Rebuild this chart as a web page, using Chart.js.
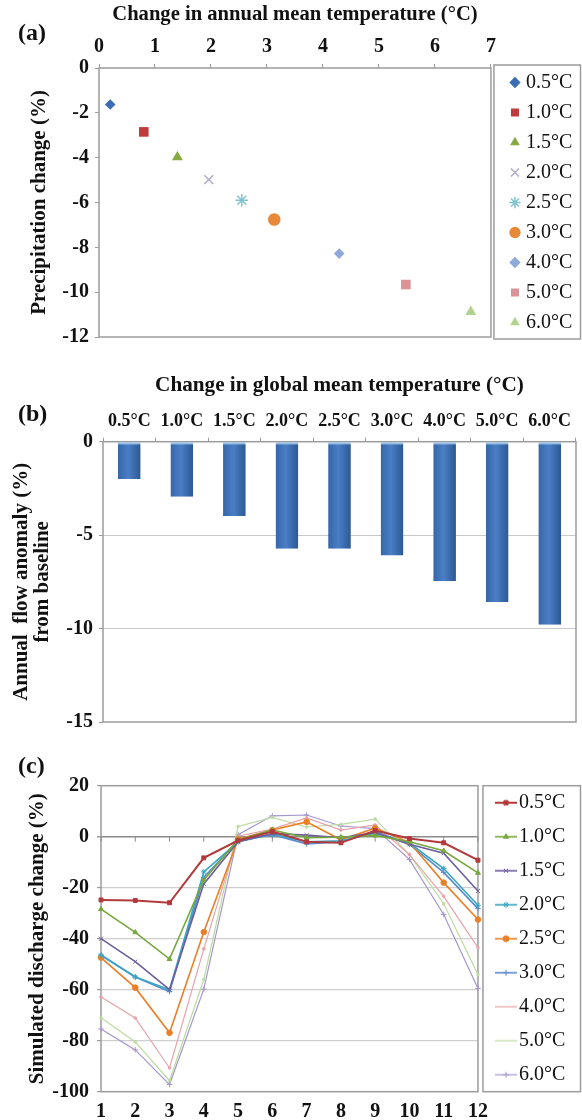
<!DOCTYPE html>
<html>
<head>
<meta charset="utf-8">
<script src="https://cdn.jsdelivr.net/npm/chart.js@4.4.1/dist/chart.umd.min.js"></script>
<style>
  body { margin: 0; background: #fff; }
  #page { position: relative; width: 582px; height: 1120px; overflow: hidden; }
  canvas { position: absolute; left: 0; }
  .tag { position: absolute; left: 18px; font: bold 24px 'Liberation Serif', serif; color: #111; line-height: 1; }
</style>
</head>
<body>
<div id="page">
  <canvas id="chartA" width="582" height="355" style="top:0"></canvas>
  <canvas id="chartB" width="582" height="400" style="top:340px"></canvas>
  <canvas id="chartC" width="582" height="390" style="top:730px"></canvas>
  <div class="tag" style="top:20px">(a)</div>
  <div class="tag" style="top:401px">(b)</div>
  <div class="tag" style="top:753px">(c)</div>
</div>
<script>
// scenarios shared by all three panels
const scenLabels = ['0.5°C', '1.0°C', '1.5°C', '2.0°C', '2.5°C', '3.0°C', '4.0°C', '5.0°C', '6.0°C'];

// (a) annual mean temperature vs precipitation change
const annualTemp = [0.20, 0.80, 1.40, 1.96, 2.55, 3.13, 4.29, 5.48, 6.64];
const precipChange = [-1.63, -2.85, -3.98, -4.98, -5.90, -6.76, -8.28, -9.66, -10.88];
const scatterColors = ['#3c6db4', '#bf3b3b', '#86a845', '#b0aacb', '#80c4cf', '#e8893a', '#91a9d9', '#dc9396', '#b2d38f'];
const scatterShapes = ['rectRot', 'rect', 'triangle', 'crossRot', 'star', 'circle', 'rectRot', 'rect', 'triangle'];

// (b) annual flow anomaly
const flowAnomaly = [-1.99, -2.94, -3.97, -5.73, -5.73, -6.09, -7.47, -8.58, -9.79];

// (c) monthly discharge change
const months = ['1', '2', '3', '4', '5', '6', '7', '8', '9', '10', '11', '12'];
const q05 = [-24.8, -25.0, -25.9, -8.3, -1.5, 2.0, -2.0, -2.4, 2.4, -0.7, -2.4, -9.2];
const q10 = [-28.4, -37.5, -48.0, -17.0, -1.2, 2.6, -0.4, -0.2, 0.5, -2.0, -5.5, -14.2];
const q15 = [-40.0, -49.0, -60.0, -18.5, -2.0, 1.2, 0.6, -0.4, 1.6, -3.0, -6.5, -21.3];
const q20 = [-46.5, -55.0, -60.0, -13.8, -2.0, 1.0, -2.0, -1.6, 1.4, -2.5, -12.5, -26.9];
const q25 = [-47.4, -59.2, -76.9, -37.4, -1.0, 2.6, 5.8, -1.2, 3.4, -2.2, -18.0, -32.5];
const q30 = [-46.4, -55.0, -60.8, -16.0, -1.6, 0.8, -2.8, -2.0, 2.0, -3.0, -14.0, -28.2];
const q40 = [-62.9, -71.1, -90.7, -44.0, 0.2, 3.0, 7.4, 2.6, 4.6, -7.0, -23.4, -43.5];
const q50 = [-71.0, -80.5, -95.7, -56.0, 4.0, 7.6, 3.8, 4.8, 6.9, -7.0, -26.3, -54.0];
const q60 = [-75.4, -83.6, -97.2, -59.8, 0.8, 8.2, 8.5, 4.2, 3.2, -8.9, -30.5, -59.5];
const dischargeSeries = [q05, q10, q15, q20, q25, q30, q40, q50, q60];
const lineColors = ['#b33a3c', '#76a83c', '#6d5e9e', '#3aa6c2', '#eb7f26', '#5a8ad0', '#e8a2aa', '#bcdba0', '#a596cf'];
const lineShapes = ['rect', 'triangle', 'crossRot', 'star', 'circle', 'cross', null, null, 'cross'];

Chart.defaults.font.family = "'Liberation Serif', serif";
Chart.defaults.color = '#111';
Chart.defaults.animation = false;

const tickFont = { size: 20, weight: 'bold' };
const titleFont = { size: 21, weight: 'bold' };
const frameColor = '#9c9c9c';

// grey box around the plot area
const frame = {
    id: 'frame',
    beforeDatasetsDraw(chart) {
        const { ctx, chartArea: a } = chart;
        ctx.save();
        ctx.strokeStyle = frameColor;
        ctx.lineWidth = 1.5;
        ctx.strokeRect(a.left, a.top, a.right - a.left, a.bottom - a.top);
        ctx.restore();
    }
};

// moves the legend next to the plot and draws a frame round it
const legendBox = {
    id: 'legendBox',
    afterLayout(chart, args, opts) {
        const lg = chart.legend;
        const a = chart.chartArea;
        if (!lg) return;
        lg.left = a.right + opts.inset;
        lg.right = lg.left + lg.width;
        lg.top = a.top - 30;
        lg.bottom = a.bottom + 30;
        lg.height = lg.bottom - lg.top;
    },
    afterDraw(chart, args, opts) {
        const { ctx, chartArea: a } = chart;
        const x0 = a.right + opts.gap;
        ctx.save();
        ctx.strokeStyle = frameColor;
        ctx.lineWidth = 1.5;
        ctx.strokeRect(x0, a.top + opts.dy0, chart.width - 1.5 - x0, a.bottom - a.top + opts.dy1 - opts.dy0);
        ctx.restore();
    }
};

// small tick marks hanging from the zero line
const zeroTicks = {
    id: 'zeroTicks',
    beforeDatasetsDraw(chart) {
        const { ctx, scales: { x, y } } = chart;
        const y0 = y.getPixelForValue(0);
        ctx.save();
        ctx.strokeStyle = '#8a8a8a';
        ctx.lineWidth = 1;
        ctx.beginPath();
        x.ticks.forEach((t, i) => {
            const px = x.getPixelForTick(i);
            ctx.moveTo(px, y0);
            ctx.lineTo(px, y0 + 5);
        });
        ctx.stroke();
        ctx.restore();
    }
};

function renderScatter() {
    new Chart(document.getElementById('chartA'), {
        type: 'scatter',
        data: {
            datasets: scenLabels.map((lab, i) => {
                const strokeOnly = scatterShapes[i] === 'crossRot' || scatterShapes[i] === 'star';
                return {
                    label: lab,
                    data: [{ x: annualTemp[i], y: precipChange[i] }],
                    pointStyle: scatterShapes[i],
                    pointRadius: scatterShapes[i] === 'rect' ? 6.8 : (scatterShapes[i] === 'rectRot' ? 5.3 : 6.3),
                    pointBackgroundColor: scatterColors[i],
                    pointBorderColor: scatterColors[i],
                    pointBorderWidth: strokeOnly ? 1.5 : 0
                };
            })
        },
        options: {
            responsive: false,
            layout: { autoPadding: false, padding: { left: 0, top: 0, right: 12.7, bottom: 17 } },
            scales: {
                x: {
                    type: 'linear',
                    position: 'top',
                    min: 0,
                    max: 7,
                    ticks: { stepSize: 1, font: tickFont, padding: 5 },
                    grid: { drawOnChartArea: false, tickLength: 4, tickColor: frameColor },
                    border: { display: false },
                    title: { display: true, text: 'Change in annual mean temperature (°C)', font: { size: 20.6, weight: 'bold' }, padding: { top: 2.4, bottom: 0 } },
                    afterFit: s => { s.height = 68; }
                },
                y: {
                    min: -12,
                    max: 0,
                    ticks: { stepSize: 2, font: tickFont, padding: 6 },
                    grid: { drawOnChartArea: false, tickLength: 4, tickColor: frameColor },
                    border: { display: false },
                    title: { display: true, text: 'Precipitation change (%)', font: titleFont, padding: { top: 27, bottom: 0 } },
                    afterFit: s => { s.width = 99; }
                }
            },
            plugins: {
                legend: {
                    position: 'right',
                    labels: { usePointStyle: true, boxWidth: 2, boxHeight: 8, padding: 10, font: { size: 20 }, color: '#111' }
                },
                legendBox: { inset: 13, gap: 3, dy0: -3, dy1: 2 },
                tooltip: { enabled: false }
            }
        },
        plugins: [frame, legendBox]
    });
}

function barFill(c) {
    const chart = c.chart;
    if (!chart.chartArea) return '#4479be';
    const xs = chart.scales.x;
    const cx = xs.getPixelForValue(c.dataIndex);
    const half = xs.width / scenLabels.length * 0.8 * 0.54 / 2;
    const g = chart.ctx.createLinearGradient(cx - half, 0, cx + half, 0);
    g.addColorStop(0, '#3566a9');
    g.addColorStop(0.45, '#4a7ec5');
    g.addColorStop(1, '#2c5994');
    return g;
}

function renderBars() {
    new Chart(document.getElementById('chartB'), {
        type: 'bar',
        data: {
            labels: scenLabels,
            datasets: [{
                data: flowAnomaly,
                backgroundColor: barFill,
                borderColor: '#93bfe9',
                borderWidth: { top: 2, bottom: 0, left: 0, right: 0 },
                borderSkipped: false,
                barPercentage: 0.54,
                categoryPercentage: 0.8
            }]
        },
        options: {
            responsive: false,
            layout: { autoPadding: false, padding: { left: 0, top: 0, right: 6, bottom: 17 } },
            scales: {
                x: {
                    position: 'top',
                    ticks: { font: { size: 18, weight: 'bold' }, padding: 6, maxRotation: 0, autoSkip: false },
                    grid: { offset: true, drawOnChartArea: false, tickLength: 4, tickColor: frameColor },
                    border: { display: false },
                    title: { display: true, text: 'Change in global mean temperature (°C)', font: { size: 21.2, weight: 'bold' }, padding: { top: 32.4, bottom: 0 } },
                    afterFit: s => { s.height = 101.7; }
                },
                y: {
                    min: -15,
                    max: 0,
                    ticks: { stepSize: 5, font: tickFont, padding: 6 },
                    grid: {
                        color: c => (c.tick.value > -15 && c.tick.value < 0 ? '#c9c9c9' : 'rgba(0,0,0,0)'),
                        tickLength: 4,
                        tickColor: frameColor
                    },
                    border: { display: false },
                    title: {
                        display: true,
                        text: ['Annual  flow anomaly (%)', 'from baseline'],
                        font: { size: 21, weight: 'bold', lineHeight: 1.0 },
                        padding: { top: 11.5, bottom: 0 }
                    },
                    afterFit: s => { s.width = 103; }
                }
            },
            plugins: { legend: { display: false }, tooltip: { enabled: false } }
        },
        plugins: [frame]
    });
}

function legendSwatch(color, shape, width) {
    const c = document.createElement('canvas');
    c.width = 22;
    c.height = 10;
    const g = c.getContext('2d');
    g.strokeStyle = color;
    g.fillStyle = color;
    g.lineWidth = width;
    g.beginPath();
    g.moveTo(0, 5);
    g.lineTo(22, 5);
    g.stroke();
    if (shape && Chart.helpers && Chart.helpers.drawPoint) {
        g.lineWidth = 1;
        Chart.helpers.drawPoint(g, { pointStyle: shape, radius: 3, borderWidth: 1, rotation: 0 }, 11, 5);
    }
    return c;
}

function renderLines() {
    const widths = dischargeSeries.map((s, i) => (i === 0 ? 2 : (i >= 6 ? 1.2 : 1.6)));
    const swatches = lineColors.map((col, i) => legendSwatch(col, lineShapes[i], widths[i]));

    new Chart(document.getElementById('chartC'), {
        type: 'line',
        data: {
            labels: months,
            datasets: dischargeSeries.map((series, i) => ({
                label: scenLabels[i],
                data: series,
                borderColor: lineColors[i],
                backgroundColor: lineColors[i],
                borderWidth: widths[i],
                pointStyle: lineShapes[i] || 'circle',
                pointRadius: lineShapes[i] ? 2.8 : 1.3,
                pointBorderWidth: 1,
                tension: 0
            }))
        },
        options: {
            responsive: false,
            layout: { autoPadding: false, padding: { left: 0, top: 55.7, right: 17.7, bottom: 0.3 } },
            scales: {
                x: {
                    offset: false,
                    ticks: { font: tickFont, padding: 0, maxRotation: 0, autoSkip: false },
                    grid: { display: false },
                    border: { display: false },
                    afterFit: s => { s.height = 28; }
                },
                y: {
                    min: -100,
                    max: 20,
                    ticks: { stepSize: 20, font: tickFont, padding: 8 },
                    grid: {
                        color: c => {
                            if (c.tick.value === 0) return '#8c8c8c';
                            return c.tick.value > -100 && c.tick.value < 20 ? '#cfcfcf' : 'rgba(0,0,0,0)';
                        },
                        lineWidth: c => (c.tick.value === 0 ? 1.5 : 1.2),
                        tickLength: 4,
                        tickColor: frameColor
                    },
                    border: { display: false },
                    title: { display: true, text: 'Simulated discharge change (%)', font: titleFont, padding: { top: 25, bottom: 0 } },
                    afterFit: s => { s.width = 101; }
                }
            },
            plugins: {
                legend: {
                    position: 'right',
                    labels: {
                        usePointStyle: true,
                        boxWidth: 6,
                        boxHeight: 10,
                        padding: 14,
                        font: { size: 20 },
                        color: '#111',
                        generateLabels: chart => Chart.defaults.plugins.legend.labels.generateLabels(chart)
                            .map((item, i) => Object.assign(item, { pointStyle: swatches[i], rotation: 0 }))
                    }
                },
                legendBox: { inset: 11, gap: 5, dy0: 0, dy1: 0 },
                tooltip: { enabled: false }
            }
        },
        plugins: [frame, zeroTicks, legendBox]
    });
}

renderScatter();
renderBars();
renderLines();
</script>
</body>
</html>
